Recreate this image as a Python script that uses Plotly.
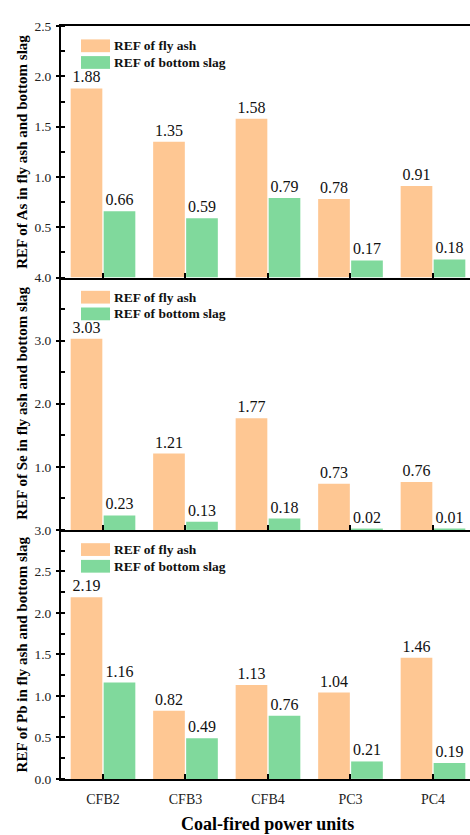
import plotly.graph_objects as go

# Power units and relative enrichment factors (REF)
categories = ["CFB2", "CFB3", "CFB4", "PC3", "PC4"]

as_fly_ash = [1.88, 1.35, 1.58, 0.78, 0.91]
as_bottom_slag = [0.66, 0.59, 0.79, 0.17, 0.18]

se_fly_ash = [3.03, 1.21, 1.77, 0.73, 0.76]
se_bottom_slag = [0.23, 0.13, 0.18, 0.02, 0.01]

pb_fly_ash = [2.19, 0.82, 1.13, 1.04, 1.46]
pb_bottom_slag = [1.16, 0.49, 0.76, 0.21, 0.19]

series_names = ["REF of fly ash", "REF of bottom slag"]
elements = ["As", "Se", "Pb"]

W, H = 470, 835
FONT = "'Liberation Serif', 'Times New Roman', serif"
ORANGE = "#FEC793"
GREEN = "#80D99C"
COLORS = [ORANGE, GREEN]


def py(px):
    """pixel row -> paper y"""
    return 1 - px / H


def pxx(px):
    """pixel column -> paper x"""
    return px / W


# panel layout (pixel rows: top, bottom)
panels = [(19.5, 275.5), (275.5, 532.5), (532.5, 786.0)]
x_left, x_right = 61.0, 470.0

panel_data = [
    (as_fly_ash, as_bottom_slag),
    (se_fly_ash, se_bottom_slag),
    (pb_fly_ash, pb_bottom_slag),
]
y_ranges = [[0, 2.5], [0, 4.0], [0, 3.0]]
major_vals = [
    [0.5, 1.0, 1.5, 2.0, 2.5],
    [1.0, 2.0, 3.0, 4.0],
    [0.0, 0.5, 1.0, 1.5, 2.0, 2.5, 3.0],
]
major_text = [
    ["0.5", "1.0", "1.5", "2.0", "2.5"],
    ["1.0", "2.0", "3.0", "4.0"],
    ["0.0", "0.5", "1.0", "1.5", "2.0", "2.5", "3.0"],
]
minor_vals = [
    [v * 0.25 for v in range(0, 11)],
    [v * 0.5 for v in range(0, 9)],
    [v * 0.25 for v in range(0, 13)],
]

fig = go.Figure()

for i, (fly, slag) in enumerate(panel_data):
    ax = "" if i == 0 else str(i + 1)
    for name, vals, col in zip(series_names, (fly, slag), COLORS):
        fig.add_trace(go.Bar(
            x=categories, y=vals, name=name,
            marker=dict(color=col, line=dict(width=0)),
            texttemplate="%{y:.2f}", textposition="outside",
            textfont=dict(family=FONT, size=16, color="#111"),
            constraintext="none", cliponaxis=False,
            xaxis="x" + ax, yaxis="y" + ax, showlegend=False,
        ))

layout = dict(
    width=W, height=H,
    margin=dict(l=0, r=0, t=0, b=0),
    paper_bgcolor="white", plot_bgcolor="white",
    barmode="group", bargap=0.2, bargroupgap=0.04,
    font=dict(family=FONT, color="#222"),
    showlegend=False,
)

shapes = []
annotations = []
x_lo = -0.509
x_hi = x_lo + (x_right - x_left) / 82.5

for i, (top, bot) in enumerate(panels):
    ax = "" if i == 0 else str(i + 1)
    layout["xaxis" + ax] = dict(
        domain=[pxx(x_left), 1.0], anchor="y" + ax,
        range=[x_lo, x_hi], type="category",
        showline=True, linecolor="black", linewidth=2,
        mirror=(i == 0),
        ticks="inside", ticklen=5, tickwidth=2, tickcolor="black",
        showticklabels=(i == 2),
        tickfont=dict(family=FONT, size=14, color="#222"),
        ticklabelstandoff=6,
        showgrid=False, zeroline=False,
        matches=None if i == 0 else "x",
    )
    layout["yaxis" + ax] = dict(
        domain=[py(bot), py(top)], anchor="x" + ax,
        range=y_ranges[i],
        showline=True, linecolor="black", linewidth=2,
        tickmode="array", tickvals=major_vals[i], ticktext=major_text[i],
        ticks="outside", ticklen=3, tickwidth=1.5, tickcolor="black",
        minor=dict(tickmode="array", tickvals=minor_vals[i],
                   ticks="inside", ticklen=4, tickwidth=1.5,
                   tickcolor="black", showgrid=False),
        tickfont=dict(family=FONT, size=13.5, color="#222"),
        ticklabelstandoff=2,
        showgrid=False, zeroline=False,
    )

    # y-axis title
    annotations.append(dict(
        text=f"<b>REF of {elements[i]} in fly ash and bottom slag</b>",
        xref="paper", yref="paper", x=pxx(22), y=py((top + bot) / 2),
        xanchor="center", yanchor="middle", textangle=-90,
        showarrow=False, font=dict(family=FONT, size=15, color="black"),
    ))

    # legend block
    for k, (name, col) in enumerate(zip(series_names, COLORS)):
        cy = top + 20 + 17 * k
        shapes.append(dict(
            type="rect", xref="paper", yref="paper",
            x0=pxx(81), x1=pxx(110), y0=py(cy + 6.5), y1=py(cy - 6.5),
            fillcolor=col, line=dict(width=0),
        ))
        annotations.append(dict(
            text=f"<b>{name}</b>", xref="paper", yref="paper",
            x=pxx(112), y=py(cy), xanchor="left", yanchor="middle",
            showarrow=False, font=dict(family=FONT, size=13.5, color="#111"),
        ))

# x-axis title
annotations.append(dict(
    text="<b>Coal-fired power units</b>", xref="paper", yref="paper",
    x=pxx(267.5), y=py(832), xanchor="center", yanchor="middle",
    showarrow=False, font=dict(family=FONT, size=18, color="black"),
))

layout["shapes"] = shapes
layout["annotations"] = annotations
fig.update_layout(**layout)

fig.write_html("out.html")
